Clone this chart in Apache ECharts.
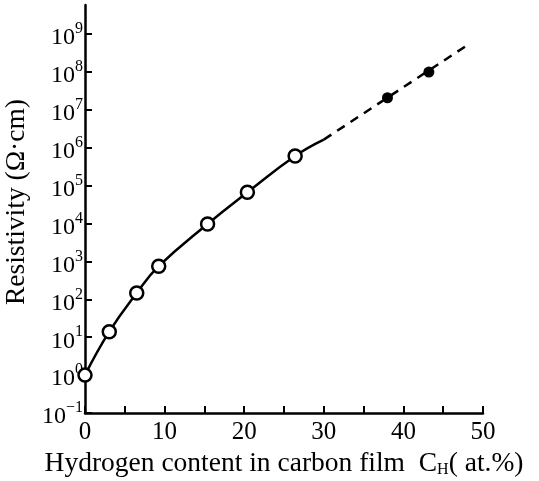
<!DOCTYPE html>
<html>
<head>
<meta charset="utf-8">
<script src="https://cdn.jsdelivr.net/npm/echarts@6/dist/echarts.min.js"></script>
<style>
  html, body { margin: 0; padding: 0; background: #fff; }
  #chart { width: 539px; height: 481px; }
</style>
</head>
<body>
<div id="chart"></div>
<script>
// measured points (open circles) - H content at.% / resistivity ohm.cm
var openX = [0, 3.05, 6.5, 9.26, 15.4, 20.4, 26.4];
var openY = [1, 14, 147, 750, 9800, 67000, 610000];
// filled points
var fillX = [38.0, 43.2];
var fillY = [2.1e7, 1.0e8];
// solid curve end / dashed extrapolation
var solidEndX = 30, solidEndY = 1.65e6;
var dashX = [30, 48];
var dashY = [1.65e6, 5.1e8];
// y ticks (decades)
var yTicks = [0.1, 1, 10, 100, 1e3, 1e4, 1e5, 1e6, 1e7, 1e8, 1e9];

var FONT = 'Liberation Serif';

function pairs(xs, ys) {
  var out = [];
  for (var i = 0; i < xs.length; i++) out.push([xs[i], ys[i]]);
  return out;
}

var solidData = pairs(openX, openY);
solidData.push([solidEndX, solidEndY]);

var myChart = echarts.init(document.getElementById('chart'));
var option = {
  animation: false,
  grid: { left: 85, right: 56, top: 5, bottom: 68, containLabel: false, outerBoundsMode: 'none' },
  xAxis: {
    type: 'value',
    min: 0, max: 50, interval: 5,
    splitLine: { show: false },
    axisLine: { lineStyle: { color: '#000', width: 2.5 } },
    axisTick: { inside: true, length: 7, lineStyle: { color: '#000', width: 2 } },
    axisLabel: {
      margin: 7,
      color: '#000', fontFamily: FONT, fontSize: 25,
      formatter: function (v) { return v % 10 === 0 ? String(v) : ''; }
    },
    name: '{a|Hydrogen content in carbon film  C}{h|H}{a|( at.%)}',
    nameLocation: 'middle',
    nameGap: 34,
    nameTextStyle: {
      rich: {
        a: { fontFamily: FONT, fontSize: 27.5, color: '#000' },
        h: { fontFamily: FONT, fontSize: 16, color: '#000', verticalAlign: 'bottom' }
      }
    }
  },
  yAxis: {
    type: 'log',
    logBase: 10,
    min: 0.1, max: 5.9e9,
    splitLine: { show: false },
    axisLine: { lineStyle: { color: '#000', width: 2.5 } },
    axisTick: { inside: true, length: 7, lineStyle: { color: '#000', width: 2 }, customValues: yTicks },
    axisLabel: {
      margin: 2,
      color: '#000',
      customValues: yTicks,
      formatter: function (v) {
        var e = Math.round(Math.log(v) / Math.LN10);
        if (Math.abs(Math.log(v) / Math.LN10 - e) > 1e-6) return '';
        return '{b|10}{s|' + (e < 0 ? '\u2212' + (-e) : e) + '}';
      },
      rich: {
        b: { fontFamily: FONT, fontSize: 24, color: '#000', lineHeight: 26, padding: [8, 0, 0, 0] },
        s: { fontFamily: FONT, fontSize: 16, color: '#000', verticalAlign: 'top', lineHeight: 26 }
      }
    },
    name: 'Resistivity (\u03a9\u00b7cm)',
    nameLocation: 'middle',
    nameGap: 47,
    nameTextStyle: { fontFamily: FONT, fontSize: 27.5, color: '#000', padding: [0, 0, 0, 14] }
  },
  series: [
    {
      type: 'line',
      data: solidData,
      smooth: 0.45,
      showSymbol: false,
      lineStyle: { color: '#000', width: 2.5 },
      z: 2
    },
    {
      type: 'line',
      data: pairs(dashX, dashY),
      showSymbol: false,
      lineStyle: { color: '#000', width: 2.5, type: [9, 7] },
      z: 2
    },
    {
      type: 'scatter',
      data: pairs(openX, openY),
      symbol: 'circle',
      symbolSize: 13,
      itemStyle: { color: '#fff', borderColor: '#000', borderWidth: 2.5, opacity: 1 },
      z: 3
    },
    {
      type: 'scatter',
      data: pairs(fillX, fillY),
      symbol: 'circle',
      symbolSize: 11,
      itemStyle: { color: '#000', opacity: 1 },
      z: 3
    }
  ]
};
myChart.setOption(option);
</script>
</body>
</html>
